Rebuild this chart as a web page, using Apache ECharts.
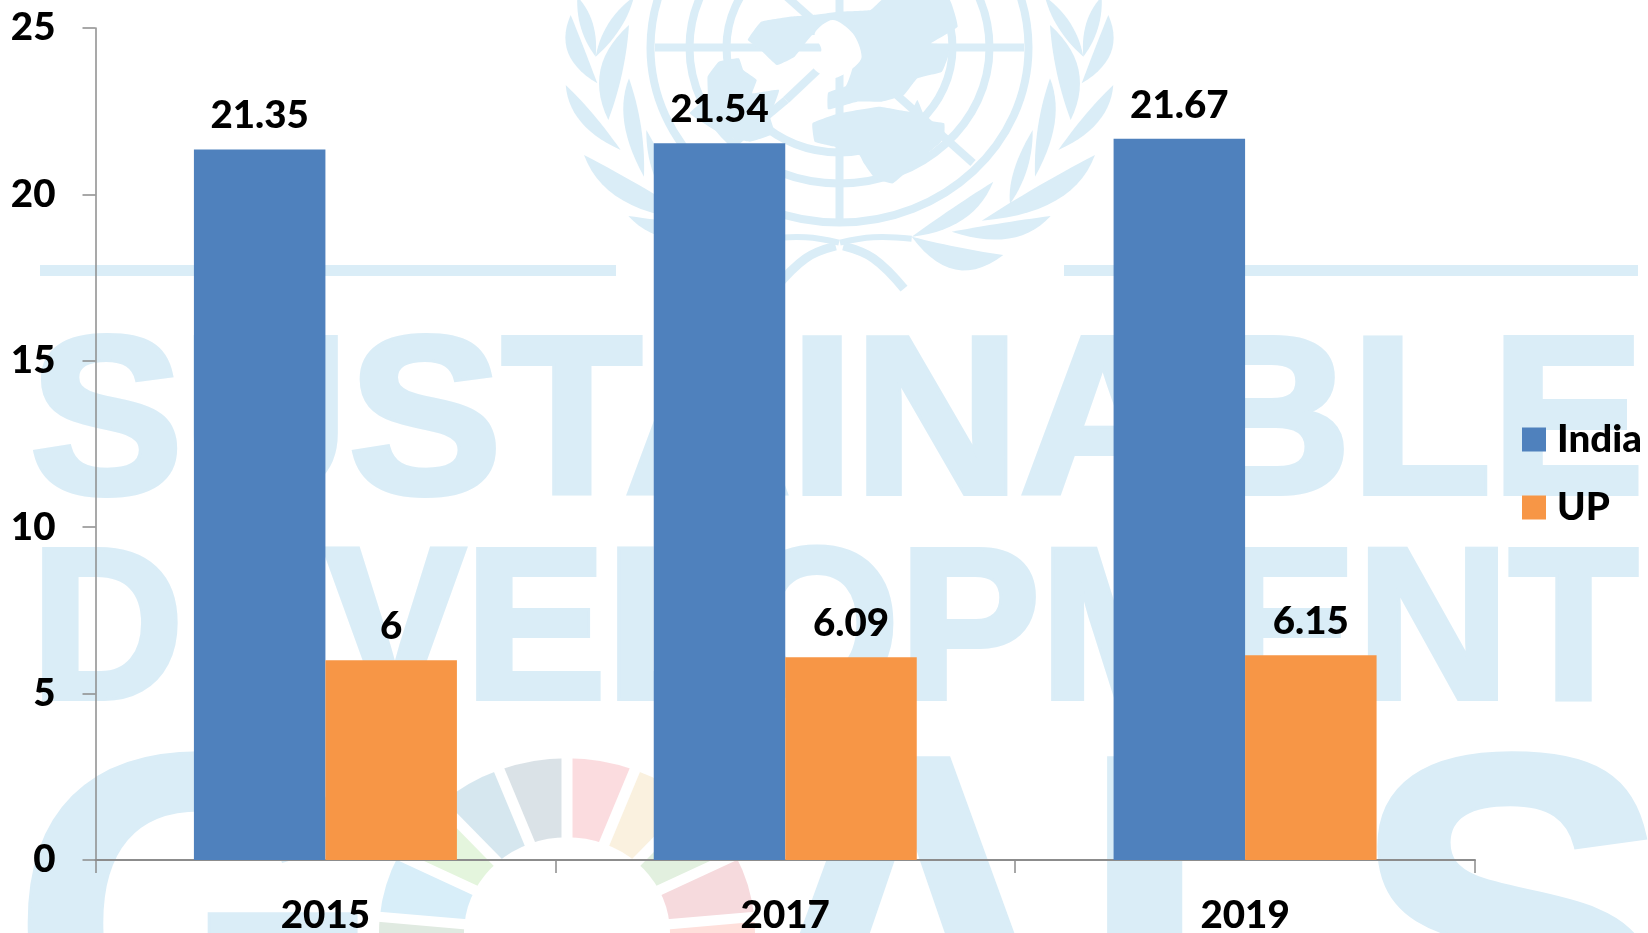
<!DOCTYPE html>
<html><head><meta charset="utf-8">
<style>html,body{margin:0;padding:0;background:#fff}#c{width:1648px;height:933px}</style>
<script src="https://cdn.jsdelivr.net/npm/echarts@6/dist/echarts.min.js"></script>
</head><body><div id="c"></div>
<script>
var categories = ['2015','2017','2019'];
var indiaValues = [21.35,21.54,21.67];
var upValues = [6,6.09,6.15];
var seriesNames = ['India','UP'];
var seriesColors = ['#4F81BD','#F79646'];
var FONT = 'Lato';
var WEIGHT = 900;
var FS = 38.5;
var TINT = '#DAEDF7';

/* ---- watermark (decoration only) ---- */
var g = [];
function wmText(t,x,y,size,sx){
  g.push({type:'text',z:-20,silent:true,x:x,y:y,scaleX:sx||1,
    style:{text:t,fill:TINT,stroke:TINT,lineWidth:6,font:'bold '+size+'px "Liberation Sans"',textAlign:'left',textVerticalAlign:'top'}});
}
wmText('SUSTAINABLE',30,319,224,1.024);
wmText('DEVELOPMENT',31,531,215,0.982);
wmText('G',11,717,480);
wmText('A',734,717,480);
wmText('L',1078,717,480);
wmText('S',1351,717,480);
g.push({type:'rect',z:-20,silent:true,shape:{x:40,y:265,width:576,height:11},style:{fill:TINT}});
g.push({type:'rect',z:-20,silent:true,shape:{x:1064,y:265,width:574,height:11},style:{fill:TINT}});

/* emblem, sketch coordinates converted from a 2.24 x 3 working grid */
function ex(x){return 500+x/2.24;} function ey(y){return y/3;}
function cvt(a){return a.map(function(p){return [ex(p[0]),ey(p[1])];});}
var cx=839.5, cy=47.5;
[[189,175],[150,136],[113,105]].forEach(function(r){
  g.push({type:'ellipse',z:-19,silent:true,shape:{cx:cx,cy:cy,rx:r[0],ry:r[1]},style:{fill:'none',stroke:TINT,lineWidth:8}});
});
[[[655,47.5],[1024,47.5]],[[839.5,47],[839.5,222]],[[839.5,-10],[839.5,47]],[[712,-70],[973,163]],[[966,-70],[786,100]],[[786,100],[708,165]]].forEach(function(l){
  g.push({type:'line',z:-19,silent:true,shape:{x1:l[0][0],y1:l[0][1],x2:l[1][0],y2:l[1][1]},style:{stroke:TINT,lineWidth:8}});
});
var land = [
 [[860,-5],[1005,-5],[1025,80],[965,130],[1005,135],[1005,165],[990,215],[935,235],[905,285],[855,305],[800,305],[735,328],[735,278],[775,258],[790,200],[760,120],[700,105],[660,170],[620,195],[580,145],[555,120],[585,65],[650,50],[700,45],[760,35],[830,30]],
 [[700,370],[760,340],[850,320],[920,335],[935,300],[955,360],[995,370],[995,410],[985,430],[940,480],[880,550],[840,535],[815,490],[805,465],[750,440],[705,425]],
 [[490,185],[535,175],[545,210],[575,240],[565,280],[625,270],[605,350],[615,400],[560,425],[500,405],[425,340],[465,290],[465,230]]
];
land.forEach(function(p){
  g.push({type:'polygon',z:-18,silent:true,shape:{points:cvt(p),smooth:0.1},style:{fill:TINT}});
});
g.push({type:'polygon',z:-18,silent:true,shape:{points:cvt([[705,100],[745,60],[790,100],[810,170],[790,205],[745,235],[700,200],[720,150]]),smooth:0.3},style:{fill:'#fff'}});

/* wreath leaves: tip, base, two curve handles, on a 3x working grid of the right half */
function wx(X){return 840+X/3;} function wy(Y){return Y/3;}
function mirror(x){return 1679-x;}
function leaf(l){
  var pts=[],i,t,a=l[0],b=l[1],c=l[2],d=l[3];
  for(i=0;i<=14;i++){t=i/14;pts.push([wx((1-t)*(1-t)*a[0]+2*t*(1-t)*c[0]+t*t*b[0]),wy((1-t)*(1-t)*a[1]+2*t*(1-t)*c[1]+t*t*b[1])]);}
  for(i=14;i>=0;i--){t=i/14;pts.push([wx((1-t)*(1-t)*a[0]+2*t*(1-t)*d[0]+t*t*b[0]),wy((1-t)*(1-t)*a[1]+2*t*(1-t)*d[1]+t*t*b[1])]);}
  return pts;
}
var leaves = [
 [[630,75],[692,360],[640,220],[770,200]],
 [[805,45],[725,250],[860,170],[770,130]],
 [[615,-10],[730,170],[640,90],[710,60]],
 [[785,-10],[730,170],[790,90],[720,60]],
 [[820,255],[655,450],[810,380],[740,330]],
 [[630,235],[585,530],[580,380],[680,360]],
 [[765,465],[425,662],[700,640],[600,550]],
 [[578,390],[510,612],[500,520],[580,510]],
 [[632,648],[335,695],[530,760],[500,665]],
 [[460,545],[215,710],[340,620],[400,690]],
 [[490,765],[215,710],[340,880],[350,745]]
];
leaves.forEach(function(l){
  var p=leaf(l);
  g.push({type:'polygon',z:-18,silent:true,shape:{points:p},style:{fill:TINT}});
  g.push({type:'polygon',z:-18,silent:true,shape:{points:p.map(function(q){return [mirror(q[0]),q[1]];})},style:{fill:TINT}});
});
var ribbons=[
 {pts:[[0,728],[100,712],[215,716]],w:6},
 {pts:[[10,738],[100,775],[192,866]],w:9}
];
ribbons.forEach(function(r){
  var p=r.pts.map(function(q){return [wx(q[0]),wy(q[1])];});
  [p,p.map(function(q){return [mirror(q[0]),q[1]];})].forEach(function(s){
    g.push({type:'polyline',z:-18,silent:true,shape:{points:s,smooth:0.4},style:{stroke:TINT,lineWidth:r.w,fill:'none'}});
  });
});

/* SDG wheel */
var sdg=['#E5243B','#DDA63A','#4C9F38','#C5192D','#FF3A21','#26BDE2','#FCC30B','#A21942','#FD6925','#DD1367','#FD9D24','#BF8B2E','#3F7E44','#0A97D9','#56C02B','#00689D','#19486A'];
var wheel=sdg.map(function(c,i){
  var s=-Math.PI/2+i*2*Math.PI/17;
  return {type:'sector',shape:{cx:0,cy:0,r:188,r0:103,startAngle:s,endAngle:s+2*Math.PI/17},
    style:{fill:c,opacity:0.16}};
});
var gaps=sdg.map(function(c,i){
  var s=-Math.PI/2+i*2*Math.PI/17;
  return {type:'line',shape:{x1:103*Math.cos(s)*0.95,y1:103*Math.sin(s)*0.95,x2:195*Math.cos(s),y2:195*Math.sin(s)},style:{stroke:'#fff',lineWidth:11}};
});
g.push({type:'group',z:-15,silent:true,x:567,y:933,scaleY:0.93,children:[{type:'circle',shape:{cx:0,cy:0,r:195},style:{fill:'#fff'}}].concat(wheel,gaps).map(function(e){e.z=-15;return e;})});

/* ---- chart ---- */
var labelStyle={show:true,position:'top',distance:14,color:'#000',fontFamily:FONT,fontWeight:WEIGHT,fontSize:FS};
var chart=echarts.init(document.getElementById('c'),null,{renderer:'canvas'});
chart.setOption({
  animation:false,
  backgroundColor:'#fff',
  color:seriesColors,
  graphic:{elements:g},
  grid:{left:95.5,top:28,width:1379.5,height:832,containLabel:false,outerBoundsMode:'none'},
  legend:{show:true,orient:'vertical',left:1522,top:420,padding:0,itemWidth:24,itemHeight:24,itemGap:29,icon:'rect',
    data:seriesNames,textStyle:{color:'#000',fontFamily:FONT,fontWeight:WEIGHT,fontSize:FS,padding:[3,0,0,6]}},
  xAxis:{type:'category',data:categories,boundaryGap:true,
    axisLine:{show:true,lineStyle:{color:'#8c8c8c',width:2}},
    axisTick:{show:true,alignWithLabel:false,length:13,lineStyle:{color:'#8c8c8c',width:1.5}},
    axisLabel:{color:'#000',fontFamily:FONT,fontWeight:WEIGHT,fontSize:FS,margin:36},splitLine:{show:false}},
  yAxis:{type:'value',min:0,max:25,interval:5,
    axisLine:{show:true,lineStyle:{color:'#8c8c8c',width:1.5}},
    axisTick:{show:true,length:13,lineStyle:{color:'#8c8c8c',width:1.5}},
    axisLabel:{color:'#000',fontFamily:FONT,fontWeight:WEIGHT,fontSize:FS,margin:40,padding:[4,0,0,0]},splitLine:{show:false}},
  series:[
    {name:seriesNames[0],type:'bar',data:indiaValues,barWidth:131.5,barGap:0,label:labelStyle,z:5},
    {name:seriesNames[1],type:'bar',data:upValues,barWidth:131.5,barGap:0,label:labelStyle,z:5}
  ]
});
</script></body></html>
